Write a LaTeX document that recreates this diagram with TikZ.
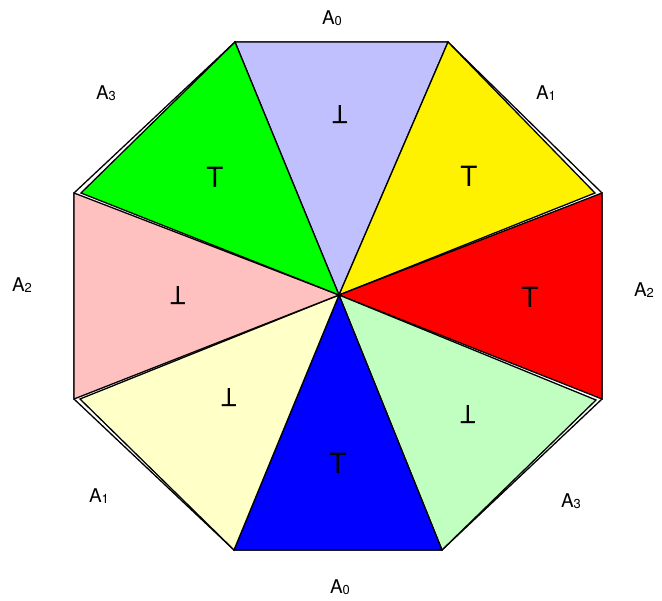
\documentclass[tikz,border=0pt]{standalone}
\usepackage{fontspec}
\setmainfont{TeX Gyre Heros}
\usetikzlibrary{positioning}

\definecolor{lavender}{RGB}{192,192,255}
\definecolor{rosepink}{RGB}{255,192,192}
\definecolor{paleyellow}{RGB}{255,255,200}
\definecolor{palegreen}{RGB}{192,255,192}

\newcommand{\lowidx}[1]{\raisebox{-0.5bp}{\fontsize{13}{13}\selectfont #1}}
\newcommand{\upsidet}{\rotatebox{180}{T}}

\begin{document}
\begin{tikzpicture}[
				x=1bp,
				y=-1bp,
				sector/.style={
					draw,
					line width=1.3bp,
					line join=miter
					},
				tlabel/.style={
					font=\fontsize{28}{28}\selectfont,
					inner sep=0pt
					},
				blabel/.style={
					font=\fontsize{25}{25}\selectfont,
					inner sep=0pt
					},
				vlabel/.style={
					font=\fontsize{19}{19}\selectfont,
					inner sep=0pt
					}]
			    \useasboundingbox (0,0) rectangle (662,601);
			    % Place corners
			    \coordinate (c) at (339,295);
			    \coordinate (o1) at (235,42);
			    \coordinate (o2) at (448,42);
			    \coordinate (o3) at (602,193);
			    \coordinate (o4) at (602,399);
			    \coordinate (o5) at (442,550);
			    \coordinate (o6) at (234,550);
			    \coordinate (o7) at (74,399);
			    \coordinate (o8) at (74,193);
			    \coordinate (i3) at (595,193);
			    \coordinate (i4) at (596,400);
			    \coordinate (i7) at (80,399);
			    \coordinate (i8) at (81,193);

			    % Draw outline and sectors
			    \draw [sector] (o1) -- (o2) -- (o3) -- (o4) -- (o5) -- (o6) -- (o7) -- (o8) -- cycle;
			    \filldraw [sector, fill=lavender] (c) -- (o1) -- (o2) -- cycle;
			    \filldraw [sector, fill=yellow] (c) -- (o2) -- (i3) -- cycle;
			    \filldraw [sector, fill=red] (c) -- (o3) -- (o4) -- cycle;
			    \filldraw [sector, fill=palegreen] (c) -- (i4) -- (o5) -- cycle;
			    \filldraw [sector, fill=blue] (c) -- (o5) -- (o6) -- cycle;
			    \filldraw [sector, fill=paleyellow] (c) -- (o6) -- (i7) -- cycle;
			    \filldraw [sector, fill=rosepink] (c) -- (o7) -- (o8) -- cycle;
			    \filldraw [sector, fill=green] (c) -- (i8) -- (o1) -- cycle;

			    % Place sector labels
			    \node [blabel] (btop) at (340,115) {\upsidet};
			    \node [tlabel] (tyellow) at (469,176) {T};
			    \node [tlabel] (tred) at (530,297) {T};
			    \node [blabel] (bgreen) at (468,415) {\upsidet};
			    \node [tlabel] (tbottom) at (338,463) {T};
			    \node [blabel] (byellow) at (229,398) {\upsidet};
			    \node [blabel] (bpink) at (178,296) {\upsidet};
			    \node [tlabel] (tgreen) at (215,177) {T};

			    % Place edge labels
			    \node [vlabel] (atop) at (332,18) {A\lowidx{0}};
			    \node [vlabel] (atopright) at (546,93) {A\lowidx{1}};
			    \node [vlabel] (aright) at (644,290) {A\lowidx{2}};
			    \node [vlabel] (abotright) at (571,501) {A\lowidx{3}};
			    \node [vlabel] (abottom) at (340,587) {A\lowidx{0}};
			    \node [vlabel] (abotleft) at (99,496) {A\lowidx{1}};
			    \node [vlabel] (aleft) at (22,285) {A\lowidx{2}};
			    \node [vlabel] (atopleft) at (106,93) {A\lowidx{3}};
			\end{tikzpicture}
\end{document}
